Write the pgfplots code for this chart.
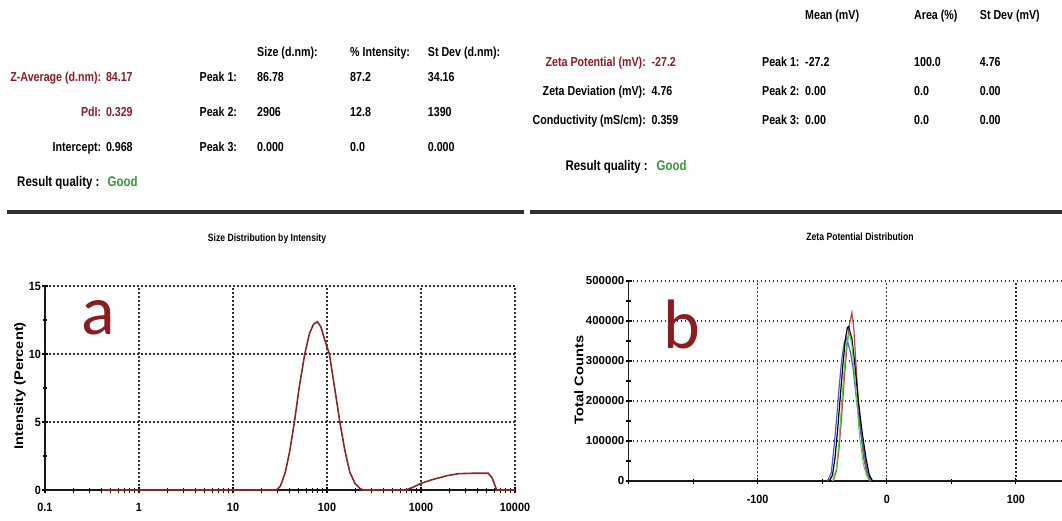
\documentclass[border=0pt]{standalone}
\usepackage{pgfplots}
\pgfplotsset{compat=1.18}
\usepackage{fontspec}
\setmainfont{Liberation Sans}
\newfontfamily\cond[FakeStretch=0.82]{Liberation Sans}
\newfontfamily\tickf[FakeStretch=0.9]{Liberation Sans}
\newfontfamily\wide[FakeStretch=1.17]{Liberation Sans}
\newfontfamily\calib{Carlito}
\definecolor{dred}{RGB}{139,28,34}
\definecolor{curvered}{RGB}{139,38,38}
\definecolor{good}{RGB}{58,150,58}
\definecolor{sepline}{RGB}{50,50,50}
\definecolor{zred}{RGB}{185,70,70}
\definecolor{zblue}{RGB}{85,85,205}
\definecolor{zgreen}{RGB}{70,215,70}

\pgfplotsset{
  dls/.style={
    scale only axis, anchor=south west,
    axis lines*=left, axis line style={-, line width=1.6pt, black!90},
    grid=major,
    major grid style={black!80, line width=1.4pt, dash pattern=on 1.6pt off 2.4pt},
    tick style={black, line width=1.1pt}, tick align=center,
    major tick length=6pt, minor tick length=5pt,
    ticklabel style={font=\tickf\bfseries\fontsize{12}{13}\selectfont},
    /pgf/number format/assume math mode=true,
    /pgf/number format/1000 sep={},
    scaled ticks=false,
    clip=false,
  }
}

\begin{document}
\begin{tikzpicture}[x=1pt,y=1pt]
\useasboundingbox (0,-521) rectangle (1062,0);
\tikzset{
  tl/.style={font=\cond\bfseries\fontsize{13}{15}\selectfont, inner sep=0pt, anchor=base west},
  tr/.style={font=\cond\bfseries\fontsize{13}{15}\selectfont, inner sep=0pt, anchor=base east},
  ql/.style={font=\cond\bfseries\fontsize{14}{16}\selectfont, inner sep=0pt, anchor=base west},
  qr/.style={font=\cond\bfseries\fontsize{14}{16}\selectfont, inner sep=0pt, anchor=base east},
}

% left table
\node[tl] at (257,-57) {Size (d.nm):};
\node[tl] at (350,-57) {\% Intensity:};
\node[tl] at (427.7,-57) {St Dev (d.nm):};
\node[tr, text=dred] at (101.4,-82) {Z-Average (d.nm):};
\node[tl, text=dred] at (105.8,-82) {84.17};
\node[tl] at (199.5,-82) {Peak 1:};
\node[tl] at (257,-82) {86.78};
\node[tl] at (350,-82) {87.2};
\node[tl] at (427.7,-82) {34.16};
\node[tr, text=dred] at (101.4,-117) {PdI:};
\node[tl, text=dred] at (105.8,-117) {0.329};
\node[tl] at (199.5,-117) {Peak 2:};
\node[tl] at (257,-117) {2906};
\node[tl] at (350,-117) {12.8};
\node[tl] at (427.7,-117) {1390};
\node[tr] at (101.4,-152) {Intercept:};
\node[tl] at (105.8,-152) {0.968};
\node[tl] at (199.5,-152) {Peak 3:};
\node[tl] at (257,-152) {0.000};
\node[tl] at (350,-152) {0.0};
\node[tl] at (427.7,-152) {0.000};
\node[qr] at (99.7,-186.5) {Result quality :};
\node[ql, text=good] at (107.5,-186.5) {Good};

% right table
\node[tl] at (805,-20) {Mean (mV)};
\node[tl] at (914,-20) {Area (\%)};
\node[tl] at (979.7,-20) {St Dev (mV)};
\node[tr, text=dred] at (646,-67) {Zeta Potential (mV):};
\node[tl, text=dred] at (651.4,-67) {-27.2};
\node[tl] at (762,-67) {Peak 1:};
\node[tl] at (805,-67) {-27.2};
\node[tl] at (914,-67) {100.0};
\node[tl] at (979.7,-67) {4.76};
\node[tr] at (646,-96) {Zeta Deviation (mV):};
\node[tl] at (651.4,-96) {4.76};
\node[tl] at (762,-96) {Peak 2:};
\node[tl] at (805,-96) {0.00};
\node[tl] at (914,-96) {0.0};
\node[tl] at (979.7,-96) {0.00};
\node[tr] at (646,-125) {Conductivity (mS/cm):};
\node[tl] at (651.4,-125) {0.359};
\node[tl] at (762,-125) {Peak 3:};
\node[tl] at (805,-125) {0.00};
\node[tl] at (914,-125) {0.0};
\node[tl] at (979.7,-125) {0.00};
\node[qr] at (648,-171) {Result quality :};
\node[ql, text=good] at (656.5,-171) {Good};

% separators
\draw[sepline, line width=3.5pt] (7,-212) -- (524,-212);
\draw[sepline, line width=3.5pt] (530,-212) -- (1062,-212);

% titles and labels
\node[font=\cond\bfseries\fontsize{10.5}{12}\selectfont] at (267,-239) {Size Distribution by Intensity};
\node[font=\cond\bfseries\fontsize{10.5}{12}\selectfont] at (860,-237) {Zeta Potential Distribution};
\node[rotate=90, font=\wide\bfseries\fontsize{12.5}{14}\selectfont] at (20,-386) {Intensity (Percent)};
\node[rotate=90, font=\wide\bfseries\fontsize{12.5}{14}\selectfont] at (579,-380) {Total Counts};
\node[font=\calib\fontsize{70}{70}\selectfont, text=dred, inner sep=0pt] at (98,-318) {a};
\node[font=\calib\fontsize{70}{70}\selectfont, text=dred, inner sep=0pt] at (682,-324) {b};

% (a) size distribution
\begin{axis}[dls,
  at={(45pt,-490pt)}, width=470pt, height=204pt,
  xmode=log, xmin=0.1, xmax=10000, ymin=0, ymax=15,
  xtick={0.1,1,10,100,1000,10000},
  xticklabels={0.1,1,10,100,1000,10000},
  ytick={0,5,10,15}, minor ytick={2.5,7.5,12.5},
  xticklabel style={yshift=-7pt},
  yticklabel style={inner sep=1pt},
]
\addplot[curvered, line width=1.6pt] coordinates {
 (0.4,0) (29,0) (32,0.3) (36,1.3) (40,2.8) (45,5.0) (51,7.7) (58,10.0)
 (65,11.5) (72,12.2) (79,12.37) (86,12.0) (95,11.0) (106,10.0) (120,7.6)
 (137,5.0) (155,2.9) (175,1.3) (200,0.45) (225,0.1) (243,0) (700,0)
 (850,0.25) (1000,0.49) (1300,0.75) (1880,1.05) (2500,1.2) (3500,1.23)
 (5200,1.23) (5700,0.9) (6380,0) (10000,0)};
\end{axis}

% (b) zeta potential distribution
\begin{axis}[dls,
  at={(628.5pt,-481pt)}, width=516.5pt, height=200pt,
  xmin=-200, xmax=200, ymin=0, ymax=500000,
  xtick={-200,-100,0,100,200},
  xticklabels={,-100,0,100,},
  minor xtick={-150,-50,50,150},
  ytick={0,100000,200000,300000,400000,500000},
  yticklabels={0,100000,200000,300000,400000,500000},
  minor ytick={50000,150000,250000,350000,450000},
  xticklabel style={yshift=-8pt},
  yticklabel style={inner sep=1pt, font=\bfseries\fontsize{11.5}{13}\selectfont},
]
\addplot[zred, line width=1.2pt] coordinates {
 (-41.5,0) (-39,25000) (-37,80000) (-35,160000) (-33,250000) (-31,330000)
 (-29,390000) (-27,421000) (-25.5,380000) (-24,300000) (-22,200000)
 (-20,120000) (-18,60000) (-15.5,18000) (-13,0)};
\addplot[zblue, line width=1.2pt] coordinates {
 (-46,0) (-43,20000) (-41,80000) (-39,150000) (-37,230000) (-35,300000)
 (-33,345000) (-31.5,358000) (-30,345000) (-28,320000) (-26,280000)
 (-24,220000) (-21,140000) (-18,80000) (-15.5,30000) (-13,5000) (-11.5,0)};
\addplot[black, line width=1.2pt] coordinates {
 (-44.5,0) (-42,15000) (-40,60000) (-38,130000) (-36,210000) (-34,290000)
 (-32,355000) (-30.5,384000) (-29.5,386000) (-27,355000) (-25,300000)
 (-22,200000) (-19,120000) (-16,55000) (-13.5,15000) (-11,0)};
\addplot[zgreen, line width=1pt] coordinates {
 (-42,0) (-39,30000) (-37,100000) (-35,190000) (-33,280000) (-31,345000)
 (-29,370000) (-27,340000) (-25,270000) (-23,190000) (-21,110000)
 (-18,40000) (-15,8000) (-13,0)};
\end{axis}
\end{tikzpicture}
\end{document}
